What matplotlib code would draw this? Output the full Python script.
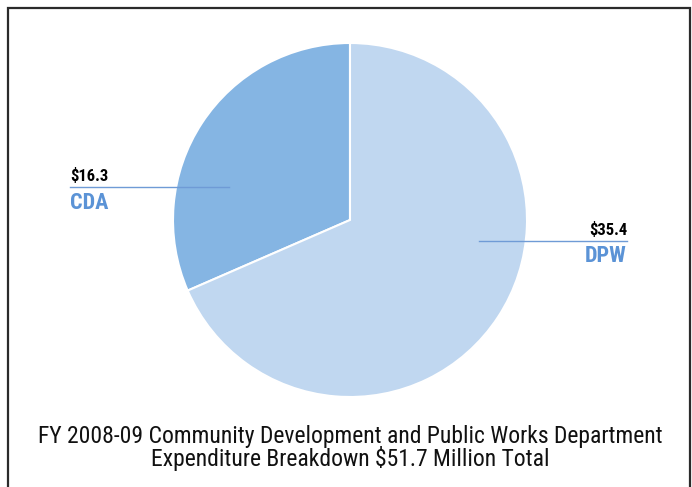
import matplotlib.pyplot as plt
from matplotlib.patches import Rectangle
from matplotlib import font_manager

labels = ['CDA', 'DPW']
values = [16.3, 35.4]
value_text = ['$16.3', '$35.4']
colors = ['#85B5E3', '#C0D7F0']
title_lines = ['FY 2008-09 Community Development and Public Works Department',
               'Expenditure Breakdown $51.7 Million Total']

W, H = 692, 487
fig = plt.figure(figsize=(W / 100, H / 100), dpi=100)
ax = fig.add_axes([0, 0, 1, 1])

names = sorted({f.name for f in font_manager.fontManager.ttflist})
font = [n for n in ['Liberation Sans Narrow', 'DejaVu Sans Condensed', 'Roboto Condensed', 'Roboto']
        if n in names] + ['DejaVu Sans']
narrow = font[0] in ('Liberation Sans Narrow', 'DejaVu Sans Condensed', 'Roboto Condensed')

cx, cy, r = 350, H - 220, 177
ax.pie(values, colors=colors, startangle=90, counterclock=True, center=(cx, cy),
       radius=r, wedgeprops=dict(edgecolor='white', linewidth=1.5), frame=True)
ax.set_xlim(0, W)
ax.set_ylim(0, H)
ax.set_aspect('equal')
ax.axis('off')

# frame (bottom runs off the image)
ax.add_patch(Rectangle((7.5, -10), 682, 489, fill=False, edgecolor='#2b2b2b', lw=1.6))

# leader lines and labels
line_col = '#6F9BD6'
lab_col = '#5B93D6'
vs = 12 if narrow else 10.5
ls = 16 if narrow else 13.5
ax.plot([70, 229], [H - 187, H - 187], color=line_col, lw=1)
ax.text(70, H - 181, value_text[0], ha='left', va='baseline', fontsize=vs,
        fontweight='bold', family=font, color='black')
ax.text(70, H - 209, labels[0], ha='left', va='baseline', fontsize=ls,
        fontweight='bold', family=font, color=lab_col)

ax.plot([479, 627], [H - 241, H - 241], color=line_col, lw=1)
ax.text(627, H - 235, value_text[1], ha='right', va='baseline', fontsize=vs,
        fontweight='bold', family=font, color='black')
ax.text(627, H - 262, labels[1], ha='right', va='baseline', fontsize=ls,
        fontweight='bold', family=font, color=lab_col)

ts = 17 if narrow else 12.5
ax.text(350, H - 443, title_lines[0], ha='center', va='baseline', fontsize=ts,
        family=font, color='#111111')
ax.text(350, H - 466, title_lines[1], ha='center', va='baseline', fontsize=ts,
        family=font, color='#111111')

fig.savefig('out.png', dpi=100)
